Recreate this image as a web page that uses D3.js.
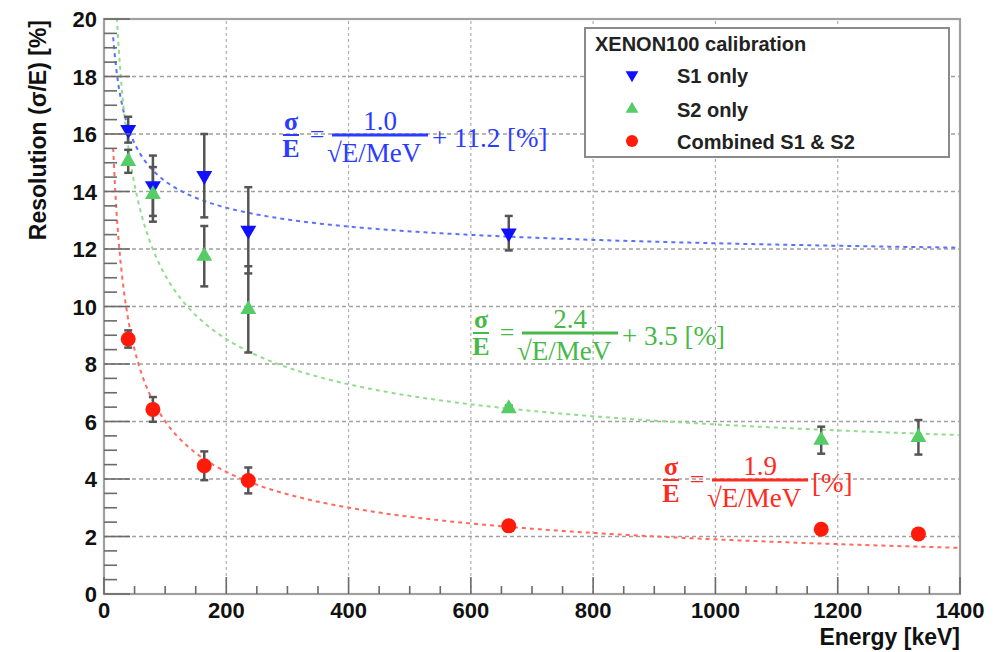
<!DOCTYPE html>
<html>
<head>
<meta charset="utf-8">
<script src="https://cdn.jsdelivr.net/npm/d3@7"></script>
<style>
  body { margin: 0; background: #fff; }
  svg { display: block; }
</style>
</head>
<body>
<script>
// energies in keV
const energiesS1 = [39.6, 80, 164, 236, 662];
const energiesAll = [39.6, 80, 164, 236, 662, 1173, 1332];

// resolution values [%] and their errors
const s1Values = [16.15, 14.2, 14.55, 12.65, 12.55];
const s1Errors = [0.45, 1.05, 1.45, 1.5, 0.6];
const s2Values = [15.05, 13.9, 11.75, 9.9, 6.45, 5.35, 5.45];
const s2Errors = [0.4, 0.95, 1.05, 1.5, 0.1, 0.47, 0.6];
const combValues = [8.87, 6.42, 4.46, 3.95, 2.37, 2.25, 2.09];
const combErrors = [0.3, 0.43, 0.5, 0.45, 0.1, 0.08, 0.08];

// fit parameters as printed on the plot: a / sqrt(E/MeV) + b
const fitNames = ['S1 only', 'S2 only', 'Combined S1 & S2'];
const fitA = [1.0, 2.4, 1.9];
const fitB = [11.2, 3.5, 0];
const fitLabels = ['1.0', '2.4', '1.9'];
const fitTails = ['+ 11.2 [%]', '+ 3.5 [%]', '[%]'];

const xTicks = [0, 200, 400, 600, 800, 1000, 1200, 1400];
const yTicks = [0, 2, 4, 6, 8, 10, 12, 14, 16, 18, 20];

const width = 1008;
const height = 652;

const markColor = ['#1010ff', '#55cc66', '#ff1a0a'];
const curveColor = ['#5a70ff', '#90dd90', '#ff6a60'];
const textColor = ['#2a3cff', '#48b848', '#ff2a20'];

const svg = d3.select('body')
    .append('svg')
    .attr('width', width)
    .attr('height', height);

svg.append('rect').attr('width', width).attr('height', height).attr('fill', '#fff');

const x = d3.scaleLinear().domain([0, 1400]).range([104, 960]);
const y = d3.scaleLinear().domain([0, 20]).range([594, 19]);

// grid
const grid = svg.append('g');
grid.selectAll('.gx')
    .data(xTicks.slice(1, -1))
    .enter()
    .append('line')
    .attr('x1', d => x(d)).attr('x2', d => x(d))
    .attr('y1', y(0)).attr('y2', y(20))
    .attr('stroke', '#b0b0b0').attr('stroke-width', 1.2)
    .attr('stroke-dasharray', '3,3');
grid.selectAll('.gy')
    .data(yTicks.slice(1, -1))
    .enter()
    .append('line')
    .attr('x1', x(0)).attr('x2', x(1400))
    .attr('y1', d => y(d)).attr('y2', d => y(d))
    .attr('stroke', '#a0a0a0').attr('stroke-width', 1.4)
    .attr('stroke-dasharray', '4,3');

// clip for fit curves
svg.append('clipPath').attr('id', 'plotclip')
    .append('rect')
    .attr('x', x(0)).attr('y', y(20))
    .attr('width', x(1400) - x(0)).attr('height', y(0) - y(20));

const curveE = d3.range(15, 1401, 3);
const line = d3.line().x(d => x(d[0])).y(d => y(d[1]));
const curves = svg.append('g').attr('clip-path', 'url(#plotclip)');
for (let i = 0; i < 3; i++) {
    const pts = curveE.map(e => [e, fitA[i] / Math.sqrt(e / 1000) + fitB[i]]);
    curves.append('path')
        .attr('d', line(pts))
        .attr('fill', 'none')
        .attr('stroke', curveColor[i])
        .attr('stroke-width', 2)
        .attr('stroke-dasharray', '4,4');
}

// data series
const series = [
    {e: energiesS1, v: s1Values, err: s1Errors, shape: 'down'},
    {e: energiesAll, v: s2Values, err: s2Errors, shape: 'up'},
    {e: energiesAll, v: combValues, err: combErrors, shape: 'circle'}
];

const errG = svg.append('g');
const markG = svg.append('g');

function marker(g, shape, cx, cy, color, scale) {
    if (shape === 'circle') {
        g.append('circle').attr('cx', cx).attr('cy', cy).attr('r', 7.5 * scale).attr('fill', color);
    } else {
        const sym = d3.symbol().type(d3.symbolTriangle).size(110 * scale * scale);
        g.append('path')
            .attr('d', sym())
            .attr('transform', 'translate(' + cx + ',' + cy + ')' + (shape === 'down' ? ' rotate(180)' : ''))
            .attr('fill', color);
    }
}

series.forEach((s, i) => {
    for (let k = 0; k < s.e.length; k++) {
        const px = x(s.e[k]);
        const top = y(s.v[k] + s.err[k]);
        const bot = y(s.v[k] - s.err[k]);
        errG.append('line').attr('x1', px).attr('x2', px).attr('y1', top).attr('y2', bot)
            .attr('stroke', '#555').attr('stroke-width', 2.5);
        [top, bot].forEach(yy => {
            errG.append('line').attr('x1', px - 4).attr('x2', px + 4).attr('y1', yy).attr('y2', yy)
                .attr('stroke', '#555').attr('stroke-width', 2.5);
        });
    }
});
series.forEach((s, i) => {
    for (let k = 0; k < s.e.length; k++) {
        marker(markG, s.shape, x(s.e[k]), y(s.v[k]), markColor[i], 1);
    }
});

// frame
svg.append('rect')
    .attr('x', x(0)).attr('y', y(20))
    .attr('width', x(1400) - x(0)).attr('height', y(0) - y(20))
    .attr('fill', 'none').attr('stroke', '#a0a0a0').attr('stroke-width', 2.2);

// ticks
const ticks = svg.append('g').attr('stroke', '#6a6a6a').attr('stroke-width', 1.6);
d3.range(0, 1401, 50).forEach(v => {
    const major = v % 200 === 0;
    ticks.append('line').attr('x1', x(v)).attr('x2', x(v))
        .attr('y1', y(0)).attr('y2', y(0) - (major ? 17 : 8));
});
d3.range(0, 20.01, 0.5).forEach(v => {
    const major = Math.abs(v % 2) < 0.01;
    ticks.append('line').attr('y1', y(v)).attr('y2', y(v))
        .attr('x1', x(0)).attr('x2', x(0) + (major ? 26 : 13));
});

// tick labels
const labelFont = '"Liberation Sans", Arial, sans-serif';
svg.selectAll('.xl')
    .data(xTicks)
    .enter()
    .append('text')
    .attr('x', d => x(d))
    .attr('y', 618)
    .attr('text-anchor', 'middle')
    .style('font-family', labelFont).style('font-weight', 'bold').style('font-size', '22px')
    .attr('fill', '#111')
    .text(d => d);
svg.selectAll('.yl')
    .data(yTicks)
    .enter()
    .append('text')
    .attr('x', 97)
    .attr('y', d => y(d) + 8)
    .attr('text-anchor', 'end')
    .style('font-family', labelFont).style('font-weight', 'bold').style('font-size', '22px')
    .attr('fill', '#111')
    .text(d => d);

// axis titles
svg.append('text')
    .attr('x', 960).attr('y', 645)
    .attr('text-anchor', 'end')
    .style('font-family', labelFont).style('font-weight', 'bold').style('font-size', '23px')
    .attr('fill', '#111')
    .text('Energy [keV]');
svg.append('text')
    .attr('transform', 'translate(46,20) rotate(-90)')
    .attr('text-anchor', 'end')
    .style('font-family', labelFont).style('font-weight', 'bold').style('font-size', '23px')
    .attr('fill', '#111')
    .text('Resolution (σ/E) [%]');

// fit formulas
const formulaPos = [[332, 135], [522, 333], [712, 480]];
const serif = '"Liberation Serif", "Times New Roman", serif';
for (let i = 0; i < 3; i++) {
    const bx = formulaPos[i][0], by = formulaPos[i][1];
    const g = svg.append('g').attr('fill', textColor[i])
        .style('font-family', serif);
    g.append('text').attr('x', bx - 41).attr('y', by - 5).attr('text-anchor', 'middle')
        .style('font-size', '26px').style('font-weight', 'bold').text('σ');
    g.append('line').attr('x1', bx - 49).attr('x2', bx - 33).attr('y1', by).attr('y2', by)
        .attr('stroke', textColor[i]).attr('stroke-width', 2);
    g.append('text').attr('x', bx - 41).attr('y', by + 22).attr('text-anchor', 'middle')
        .style('font-size', '26px').style('font-weight', 'bold').text('E');
    g.append('text').attr('x', bx - 15).attr('y', by + 8).attr('text-anchor', 'middle')
        .style('font-size', '26px').text('=');
    g.append('text').attr('x', bx + 48).attr('y', by - 5).attr('text-anchor', 'middle')
        .style('font-size', '27px').text(fitLabels[i]);
    g.append('line').attr('x1', bx).attr('x2', bx + 96).attr('y1', by).attr('y2', by)
        .attr('stroke', textColor[i]).attr('stroke-width', 3);
    g.append('text').attr('x', bx - 5).attr('y', by + 27)
        .style('font-size', '27px').text('√E/MeV');
    g.append('text').attr('x', bx + 100).attr('y', by + 12)
        .style('font-size', '27px').text(fitTails[i]);
}

// legend
const legend = svg.append('g');
legend.append('rect')
    .attr('x', 585).attr('y', 28).attr('width', 364).attr('height', 129)
    .attr('fill', '#fff').attr('stroke', '#8a8a8a').attr('stroke-width', 2);
legend.append('text')
    .attr('x', 595).attr('y', 51)
    .style('font-family', labelFont).style('font-weight', 'bold').style('font-size', '20px')
    .attr('fill', '#222')
    .text('XENON100 calibration');
const legendY = [83, 117, 149];
series.forEach((s, i) => {
    marker(legend, s.shape, 632, legendY[i] - 8, markColor[i], 0.8);
    legend.append('text')
        .attr('x', 677).attr('y', legendY[i])
        .style('font-family', labelFont).style('font-weight', 'bold').style('font-size', '20px')
        .attr('fill', '#222')
        .text(fitNames[i]);
});
</script>
</body>
</html>
